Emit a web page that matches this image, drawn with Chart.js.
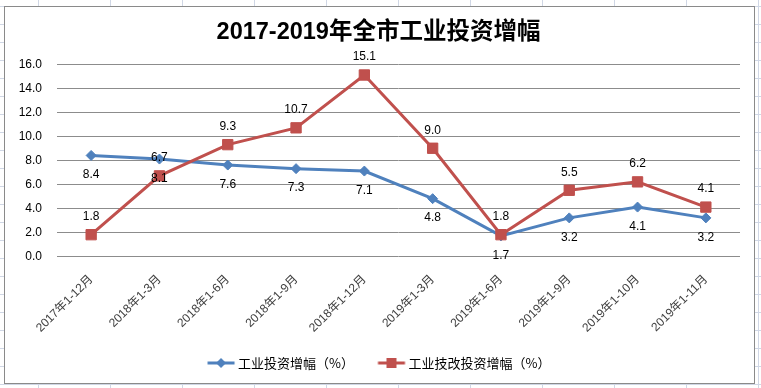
<!DOCTYPE html>
<html>
<head>
<meta charset="utf-8">
<script src="https://cdn.jsdelivr.net/npm/chart.js@4.4.1/dist/chart.umd.min.js"></script>
<style>
  html, body { margin: 0; padding: 0; }
  body {
    width: 761px; height: 388px; overflow: hidden; position: relative;
    background-color: #fff;
    background-image:
      linear-gradient(to right, #d0d7e5 1px, transparent 1px),
      linear-gradient(to bottom, #d0d7e5 1px, transparent 1px);
    background-size: 72px 18px;
    background-position: 38px 6px;
  }
  #frame {
    position: absolute; left: 4px; top: 6px;
    width: 749px; height: 376px;
    border: 1px solid #8a8a8a;
    background: #fff;
  }
  canvas { display: block; }
</style>
</head>
<body>
<div id="frame"><canvas id="c" width="749" height="376"></canvas></div>
<script>
// ---- data ----
const categories = ['2017年1-12月','2018年1-3月','2018年1-6月','2018年1-9月','2018年1-12月',
                    '2019年1-3月','2019年1-6月','2019年1-9月','2019年1-10月','2019年1-11月'];
const investGrowth = [8.4, 8.1, 7.6, 7.3, 7.1, 4.8, 1.7, 3.2, 4.1, 3.2];
const techGrowth   = [1.8, 6.7, 9.3, 10.7, 15.1, 9.0, 1.8, 5.5, 6.2, 4.1];
const yTickLabels  = ['0.0','2.0','4.0','6.0','8.0','10.0','12.0','14.0','16.0'];
const seriesNames  = ['工业投资增幅（%）', '工业技改投资增幅（%）'];
const titleText    = '2017-2019年全市工业投资增幅';

const BLUE = '#4F81BD', RED = '#C0504D';
const NUM_FONT = '"Liberation Sans", "Noto Sans CJK SC", sans-serif';

// legend symbol: short line with the series marker in the middle
function legendIcon(color, shape) {
  const cv = document.createElement('canvas');
  cv.width = 54; cv.height = 14;
  const g = cv.getContext('2d');
  const q = 15.5;
  g.strokeStyle = color; g.lineWidth = 3;
  g.beginPath(); g.moveTo(q, 7); g.lineTo(q + 27, 7); g.stroke();
  g.fillStyle = color;
  g.beginPath();
  if (shape === 'diamond') {
    g.moveTo(q + 13.5, 2); g.lineTo(q + 18.5, 7); g.lineTo(q + 13.5, 12); g.lineTo(q + 8.5, 7); g.closePath();
  } else {
    g.rect(q + 8.5, 2, 10, 10);
  }
  g.fill();
  return cv;
}

// value labels drawn at the library-computed point positions
const valueLabels = {
  id: 'valueLabels',
  afterDatasetsDraw(chart, args, opts) {
    const ctx = chart.ctx;
    ctx.save();
    ctx.font = '12px ' + NUM_FONT;
    ctx.fillStyle = '#000';
    ctx.textAlign = 'center';
    ctx.textBaseline = 'middle';
    chart.data.datasets.forEach((ds, di) => {
      const meta = chart.getDatasetMeta(di);
      const cfg = opts.series[ds.key];
      meta.data.forEach((pt, j) => {
        const off = (cfg.override && cfg.override[j] !== undefined) ? cfg.override[j] : cfg.offset;
        ctx.fillText(ds.data[j].toFixed(1), pt.x, pt.y + off);
      });
    });
    ctx.restore();
  }
};

new Chart(document.getElementById('c'), {
  type: 'line',
  data: {
    labels: categories,
    datasets: [
      {
        key: 'tech', label: seriesNames[1], data: techGrowth,
        borderColor: RED, backgroundColor: RED, borderWidth: 3,
        pointStyle: 'rect', pointRadius: 7.3, pointBorderWidth: 1,
        pointBackgroundColor: RED, pointBorderColor: RED,
        tension: 0
      },
      {
        key: 'invest', label: seriesNames[0], data: investGrowth,
        borderColor: BLUE, backgroundColor: BLUE, borderWidth: 3,
        pointStyle: 'rectRot', pointRadius: 5, pointBorderWidth: 1,
        pointBackgroundColor: BLUE, pointBorderColor: BLUE,
        tension: 0
      }
    ]
  },
  options: {
    responsive: false,
    animation: false,
    layout: { padding: { left: 12, right: 14, top: 0, bottom: 3.5 } },
    plugins: {
      title: {
        display: true, text: titleText, color: '#000',
        font: { family: NUM_FONT, size: 23.5, weight: 'bold' },
        padding: { top: 11, bottom: 18 }
      },
      legend: {
        position: 'bottom',
        reverse: true,
        labels: {
          usePointStyle: true,
          pointStyleWidth: 25,
          padding: 23,
          color: '#000',
          font: { family: '"Noto Sans CJK SC", sans-serif', size: 13 },
          generateLabels(chart) {
            return chart.data.datasets.map((ds, i) => ({
              text: ds.label,
              pointStyle: legendIcon(ds.borderColor, ds.key === 'invest' ? 'diamond' : 'square'),
              fillStyle: ds.borderColor, strokeStyle: ds.borderColor, lineWidth: 0,
              fontColor: '#000',
              hidden: false, datasetIndex: i
            }));
          }
        }
      },
      tooltip: { enabled: false },
      valueLabels: {
        series: {
          invest: { offset: 19.5, override: { 2: 31 } },
          tech: { offset: -18, override: { 2: -32 } }
        }
      }
    },
    scales: {
      x: {
        offset: true,
        grid: { display: false, drawTicks: false },
        border: { display: false },
        ticks: {
          autoSkip: false, minRotation: 45, maxRotation: 45,
          padding: 16,
          color: '#404040',
          font: { family: NUM_FONT, size: 12 }
        },
        afterFit(scale) { scale.height = 77.2; }
      },
      y: {
        min: 0, max: 16,
        grid: { color: '#8c8c8c', lineWidth: 1, drawTicks: false },
        border: { display: false },
        ticks: {
          stepSize: 2, padding: 15, color: '#000',
          font: { family: NUM_FONT, size: 12 },
          callback: (v, i) => yTickLabels[i]
        },
        afterFit(scale) { scale.width = 40; }
      }
    }
  },
  plugins: [valueLabels]
});
</script>
</body>
</html>
